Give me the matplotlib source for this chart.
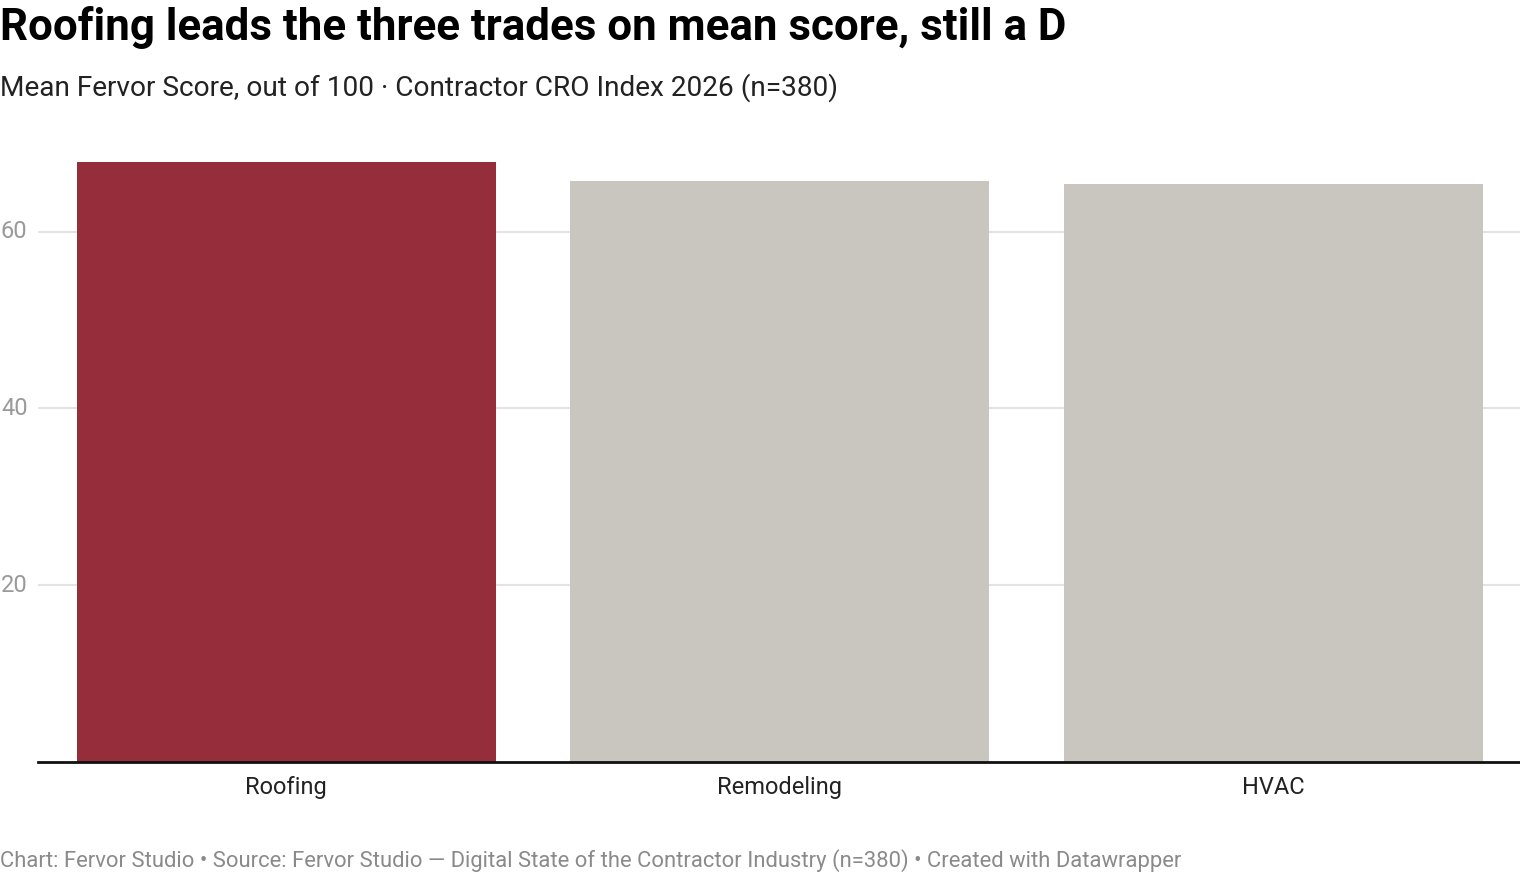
import matplotlib
matplotlib.use("Agg")
import matplotlib.pyplot as plt

plt.rcParams["font.family"] = ["Roboto", "DejaVu Sans"]

trades = ["Roofing", "Remodeling", "HVAC"]
mean_score = [67.9, 65.7, 65.4]
colors = ["#962d3a", "#c9c6bf", "#c9c6bf"]
y_ticks = [20, 40, 60]

fig = plt.figure(figsize=(15.2, 8.72), dpi=100)
ax = fig.add_axes([0.025, 0.1265, 0.975, 0.709])

x = range(len(trades))
ax.bar(x, mean_score, width=0.849, color=colors, zorder=2)
ax.set_xlim(-0.503, 2.5)
ax.set_ylim(0, 70)

ax.set_yticks(y_ticks)
ax.set_yticklabels([str(t) for t in y_ticks])
ax.yaxis.grid(True, color="#e3e3e3", lw=1.5, zorder=0)
ax.tick_params(axis="y", length=0, pad=0, labelsize=17, labelcolor="#9a9a9a")
for lab in ax.get_yticklabels():
    lab.set_horizontalalignment("left")
    lab.set_x(-0.025)
    lab.set_verticalalignment("center")

ax.set_xticks(list(x))
ax.set_xticklabels(trades)
ax.tick_params(axis="x", length=0, pad=10, labelsize=17, labelcolor="#222222")

for side in ["top", "right", "left"]:
    ax.spines[side].set_visible(False)
ax.spines["bottom"].set_color("#111111")
ax.spines["bottom"].set_linewidth(2)
ax.spines["bottom"].set_zorder(3)

fig.text(0.0, 1 - 40 / 872, "Roofing leads the three trades on mean score, still a D",
         fontsize=31.6, fontweight="bold", color="#000000", va="baseline", ha="left")
fig.text(0.0, 1 - 96 / 872, "Mean Fervor Score, out of 100 \u00b7 Contractor CRO Index 2026 (n=380)",
         fontsize=20.2, color="#222222", va="baseline", ha="left")
fig.text(0.0, 5 / 872,
         "Chart: Fervor Studio \u2022 Source: Fervor Studio \u2014 Digital State of the Contractor Industry (n=380) \u2022 Created with Datawrapper",
         fontsize=15.8, color="#8a8a8a", va="baseline", ha="left")

fig.savefig("out.png", dpi=100, facecolor="white")
